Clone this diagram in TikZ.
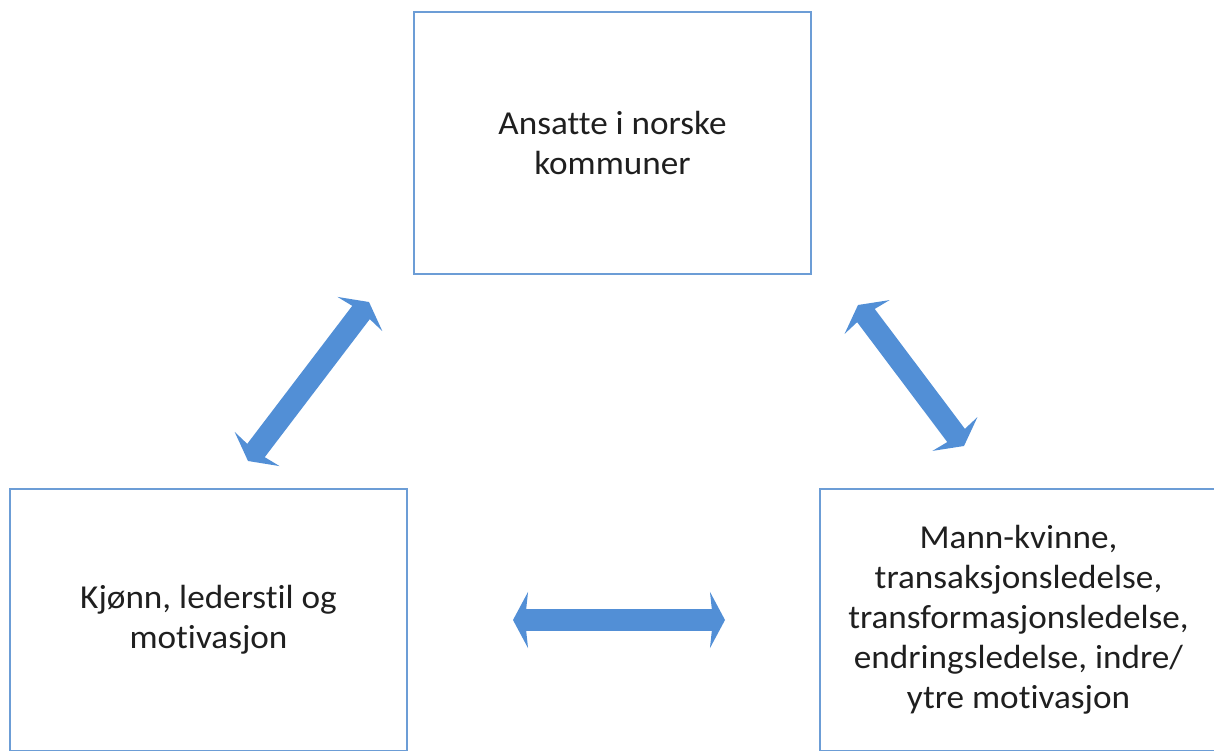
\documentclass[tikz,border=0pt]{standalone}
\usepackage{fontspec}
\setmainfont{Carlito}[Ligatures=NoCommon, FakeStretch=1.05]
\usetikzlibrary{arrows.meta}
\definecolor{boxline}{RGB}{108,157,214}
\definecolor{arrowblue}{RGB}{82,143,214}
\tikzset{bihead/.tip={Stealth[length=15pt,width=56pt,inset=3pt]}}
\begin{document}
\begin{tikzpicture}[x=1pt,y=-1pt,
  box/.style={draw=boxline, line width=2pt, minimum width=397pt, minimum height=262pt,
    inner sep=0pt, align=center, font=\fontsize{33.5}{40}\selectfont, text=black!88},
  link/.style={draw=arrowblue, line width=22pt, {bihead}-{bihead}}]
\useasboundingbox (0,0) rectangle (1214,751);
\clip (0,0) rectangle (1214,751);

% the three boxes
\node[box] (top) at (612.5,143) {Ansatte i norske\\kommuner};
\node[box] (left) at (208.5,620) {Kjønn, lederstil og\\motivasjon};
\node[box] (right) at (1018.5,620) {Mann-kvinne,\\transaksjonsledelse,\\transformasjonsledelse,\\endringsledelse, indre/\\ytre motivasjon};

% ends of the double arrows between the boxes
\coordinate (tl) at (369,302);
\coordinate (lt) at (248,461);
\coordinate (tr) at (858,305);
\coordinate (rt) at (964,446);
\coordinate (lr) at (513,620);
\coordinate (rl) at (725,620);

\draw[link] (lt) -- (tl);
\draw[link] (tr) -- (rt);
\draw[link] (lr) -- (rl);
\end{tikzpicture}
\end{document}
